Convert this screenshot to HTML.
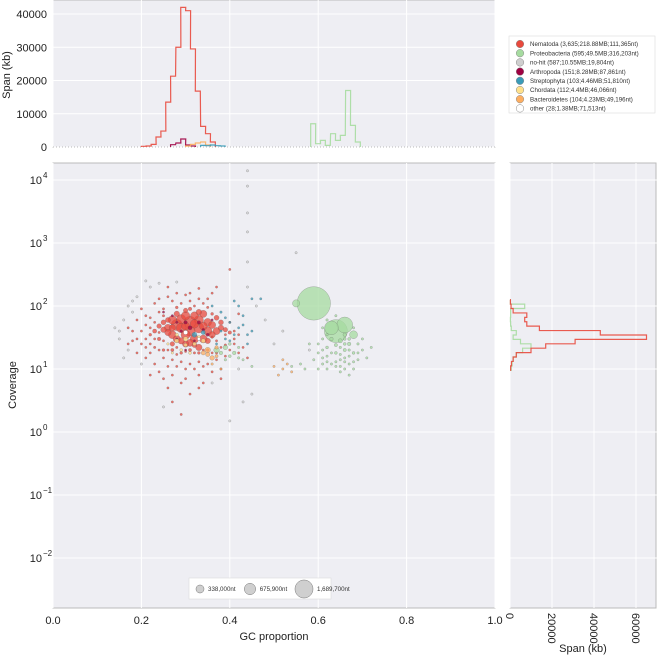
<!DOCTYPE html>
<html><head><meta charset="utf-8"><style>
html,body{margin:0;padding:0;background:#fff;}
svg{display:block;font-family:"Liberation Sans","DejaVu Sans",sans-serif;}
</style></head><body>
<svg id="chart" width="657" height="657" viewBox="0 0 657 657" xmlns="http://www.w3.org/2000/svg"></svg>
<script>
const catNames=["Nematoda (3,635;218.88MB;111,365nt)","Proteobacteria (595;49.5MB;316,203nt)","no-hit (587;10.55MB;19,804nt)","Arthropoda (151;8.28MB;87,861nt)","Streptophyta (103;4.46MB;51,810nt)","Chordata (112;4.4MB;46,066nt)","Bacteroidetes (104;4.23MB;49,196nt)","other (28;1.38MB;71,513nt)"];
const catColors=["#e8493d","#a6dba0","#cfcfcf","#9e0142","#3a9bb8","#fee08b","#fdae61","#ffffff"];
const xTicks=[0,0.2,0.4,0.6,0.8,1.0];
const xTickLabels=["0.0","0.2","0.4","0.6","0.8","1.0"];
const yTicks=[-2,-1,0,1,2,3,4];
const topTicks=[0,10000,20000,30000,40000];
const rightTicks=[0,20000,40000,60000];
const sizeLegendKb=[338,675.9,1689.7];
const sizeLegendLabels=["338,000nt","675,900nt","1,689,700nt"];
// points: [gc, coverage, span kb, category]
const points=[
[0.28,50,600,0],[0.31,55,700,0],[0.33,45,500,0],[0.30,35,400,0],[0.35,40,350,0],[0.27,35,300,0],[0.32,70,300,0],[0.29,62,400,0],[0.36,50,250,0],[0.34,30,300,0],[0.26,45,250,0],[0.38,45,150,0],[0.30,25,200,0],[0.33,22,200,0],[0.25,55,120,0],[0.37,65,120,0],[0.31,90,60,0],[0.28,95,40,0],[0.35,95,30,0],[0.40,380,15,0],[0.26,140,20,0],[0.23,110,15,0],[0.21,50,15,0],[0.20,40,12,0],[0.19,30,10,0],[0.22,25,12,0],[0.24,20,15,0],[0.25,15,12,0],[0.27,14,15,0],[0.29,13,12,0],[0.31,12,15,0],[0.33,13,12,0],[0.35,12,10,0],[0.37,14,10,0],[0.39,16,8,0],[0.41,25,10,0],[0.42,35,10,0],[0.40,55,12,0],[0.22,65,10,0],[0.24,80,10,0],[0.27,120,10,0],[0.30,150,8,0],[0.33,130,8,0],[0.36,160,8,0],[0.24,9,6,0],[0.27,8,6,0],[0.30,7,6,0],[0.33,8,6,0],[0.36,9,6,0],[0.26,5,5,0],[0.31,4,5,0],[0.29,1.9,5,0],[0.34,6,5,0],[0.23,30,20,0],[0.25,28,25,0],[0.28,22,30,0],[0.32,18,30,0],[0.34,20,25,0],[0.37,28,25,0],[0.39,35,20,0],[0.21,22,8,0],[0.18,28,6,0],[0.17,45,6,0],[0.19,60,6,0],[0.43,22,6,0],[0.44,15,6,0],[0.38,10,8,0],[0.26,11,8,0],[0.28,17,20,0],[0.30,19,25,0],[0.26,20,15,0],[0.24,38,20,0],[0.36,32,30,0],[0.38,22,15,0],[0.22,45,10,0],[0.32,100,15,0],[0.29,110,10,0],[0.34,110,12,0],[0.25,70,30,0],[0.36,75,40,0],
[0.27,60,350,0],[0.29,45,450,0],[0.31,40,500,0],[0.33,60,400,0],[0.35,55,300,0],[0.37,40,250,0],[0.28,30,250,0],[0.32,30,350,0],[0.26,38,200,0],[0.30,70,350,0],[0.34,75,250,0],[0.36,35,200,0],[0.29,28,200,0],[0.31,26,250,0],[0.27,45,200,0],[0.25,42,150,0],[0.24,48,100,0],[0.23,40,80,0],[0.38,55,120,0],[0.39,42,100,0],[0.40,38,60,0],[0.33,80,150,0],[0.28,75,150,0],[0.30,85,100,0],[0.26,60,120,0],[0.35,28,150,0],[0.32,24,120,0],[0.27,25,100,0],[0.24,30,60,0],[0.22,35,40,0],[0.23,22,30,0],[0.21,30,25,0],[0.20,25,20,0],[0.22,18,20,0],[0.25,20,40,0],[0.27,20,50,0],[0.29,18,40,0],[0.31,20,50,0],[0.33,18,40,0],[0.35,20,40,0],[0.37,18,30,0],[0.39,24,30,0],[0.41,30,20,0],[0.41,40,15,0],[0.23,55,25,0],[0.21,70,10,0],[0.25,90,20,0],[0.31,120,20,0],[0.35,130,15,0],[0.28,160,10,0],[0.24,130,10,0],[0.20,90,8,0],[0.18,40,8,0],[0.17,25,6,0],[0.19,18,8,0],[0.21,15,10,0],[0.23,12,10,0],[0.28,11,10,0],[0.32,10,10,0],[0.34,11,8,0],[0.30,10,8,0],[0.36,18,15,0],[0.40,20,12,0],[0.42,18,8,0],[0.25,7,5,0],[0.29,6,5,0],[0.33,5,5,0],[0.27,3,4,0],[0.38,7,5,0],[0.22,8,5,0],[0.31,160,10,0],[0.33,190,8,0],[0.26,200,6,0],[0.37,200,6,0],[0.42,75,8,0],[0.30,48,300,0],[0.34,48,300,0],[0.32,52,350,0],
[0.59,110,5300,1],[0.64,40,2500,1],[0.66,50,1200,1],[0.63,45,900,1],[0.55,110,250,1],[0.68,35,300,1],[0.37,20,150,1],[0.39,22,100,1],[0.41,18,60,1],[0.40,25,40,1],[0.42,15,30,1],[0.63,30,60,1],[0.65,28,80,1],[0.67,25,60,1],[0.66,20,50,1],[0.64,18,40,1],[0.62,22,40,1],[0.68,18,40,1],[0.69,25,30,1],[0.70,30,20,1],[0.61,15,20,1],[0.63,12,20,1],[0.65,14,25,1],[0.67,12,20,1],[0.69,14,15,1],[0.60,25,15,1],[0.62,35,30,1],[0.66,35,60,1],[0.64,24,50,1],[0.61,12,15,1],[0.60,10,10,1],[0.62,10,10,1],[0.66,10,10,1],[0.68,10,10,1],[0.70,20,10,1],[0.72,22,8,1],[0.58,25,10,1],[0.56,12,8,1],[0.54,11,6,1],[0.57,10,8,1],[0.59,14,8,1],[0.65,9,8,1],[0.67,8,6,1],[0.64,70,15,1],[0.61,30,20,1],[0.45,11,6,1],
[0.62,16,20,1],[0.63,18,20,1],[0.64,13,20,1],[0.65,17,25,1],[0.66,15,25,1],[0.67,16,20,1],[0.68,13,20,1],[0.66,13,20,1],[0.65,11,20,1],[0.64,11,20,1],[0.66,30,40,1],[0.67,30,40,1],[0.65,22,30,1],[0.66,25,40,1],[0.67,20,30,1],[0.69,18,20,1],[0.60,18,15,1],[0.61,20,15,1],[0.62,13,15,1],[0.71,15,10,1],[0.62,60,30,1],[0.61,45,20,1],[0.68,45,20,1],[0.38,18,60,1],[0.40,16,40,1],[0.42,22,30,1],[0.43,14,20,1],[0.39,14,30,1],
[0.15,30,5,2],[0.16,15,5,2],[0.18,80,5,2],[0.22,200,5,2],[0.28,240,5,2],[0.44,3000,3,2],[0.44,8000,3,2],[0.44,14000,3,2],[0.44,1500,3,2],[0.44,500,3,2],[0.44,200,3,2],[0.46,100,4,2],[0.48,60,4,2],[0.20,12,5,2],[0.42,10,5,2],[0.45,4,4,2],[0.43,3,4,2],[0.25,2.5,4,2],[0.17,100,4,2],[0.19,140,5,2],[0.50,25,4,2],[0.58,20,4,2],[0.52,40,4,2],[0.36,6,4,2],[0.14,45,4,2],[0.40,1.5,4,2],[0.55,700,3,2],[0.16,60,8,2],[0.17,20,8,2],[0.15,40,6,2],[0.18,120,6,2],[0.21,250,5,2],[0.24,230,5,2],
[0.31,45,80,3],[0.33,55,60,3],[0.29,40,40,3],[0.35,35,50,3],[0.27,70,30,3],[0.30,20,20,3],[0.36,60,20,3],[0.32,28,15,3],[0.28,30,15,3],[0.25,80,10,3],[0.30,55,60,3],[0.34,42,40,3],[0.28,55,30,3],
[0.32,35,120,4],[0.34,38,80,4],[0.38,80,30,4],[0.40,55,20,4],[0.42,45,15,4],[0.39,30,15,4],[0.43,70,10,4],[0.36,100,15,4],[0.41,120,10,4],[0.37,25,10,4],[0.44,35,8,4],[0.45,130,10,4],[0.47,130,8,4],[0.38,40,12,4],[0.41,35,12,4],[0.43,50,10,4],[0.40,28,10,4],[0.45,40,8,4],[0.44,25,8,4],[0.39,65,10,4],[0.42,100,8,4],
[0.30,30,100,5],[0.28,28,80,5],[0.32,25,60,5],[0.34,28,80,5],[0.29,20,40,5],[0.31,18,40,5],[0.26,25,30,5],[0.33,32,50,5],[0.27,18,20,5],[0.30,24,60,5],[0.28,35,50,5],
[0.35,20,150,6],[0.36,15,100,6],[0.34,18,80,6],[0.37,22,60,6],[0.36,12,30,6],[0.52,10,10,6],[0.53,12,10,6],[0.51,8,8,6],[0.54,9,8,6],[0.52,14,6,6],[0.50,11,6,6],[0.38,10,10,6],[0.35,17,80,6],[0.37,16,50,6],
[0.30,38,80,7],[0.33,30,40,7]
];
// top histogram: bin start gc, span kb
const topRedBins=[0.20,0.211,0.222,0.233,0.244,0.255,0.266,0.278,0.289,0.300,0.311,0.322,0.334,0.345,0.356];
const topRedVals=[200,300,800,3000,4800,13500,21300,30000,42000,41000,29500,16800,6200,4000,1500];
const topGreenBins=[0.583,0.594,0.605,0.616,0.628,0.639,0.650,0.662,0.673,0.684];
const topGreenVals=[7000,1000,2000,500,4000,2000,3500,17000,6500,1500];
const topArthBins=[0.266,0.278,0.289,0.300,0.311];
const topArthVals=[700,1200,2400,600,300];
const topOrangeBins=[0.300,0.311,0.322,0.334,0.345];
const topOrangeVals=[300,800,1200,1500,600];
const topTealBins=[0.334,0.345,0.356,0.367,0.378];
const topTealVals=[500,400,600,400,300];
// right histogram: log10 coverage bin lower edges, span kb
const rightEdges=[0.98,1.05,1.12,1.19,1.26,1.33,1.40,1.47,1.54,1.61,1.68,1.75,1.82,1.89,1.96,2.03];
const rightRed=[300,700,1500,3000,10000,17000,31000,65000,43000,14000,8000,7000,8000,1500,500,200];
const rightGreen=[600,1000,1500,3000,6000,10000,5000,1500,3000,600,300,200,300,300,7000,200];

const svg=document.getElementById('chart');
const NS="http://www.w3.org/2000/svg";
function mk(tag,attrs,parent){const e=document.createElementNS(NS,tag);for(const k in attrs)e.setAttribute(k,attrs[k]);(parent||svg).appendChild(e);return e;}
const M={x0:53,x1:495,y0:163,y1:608};
const T={y0:0,y1:147};
const R={x0:510,x1:657};
const X=g=>M.x0+(M.x1-M.x0)*g;
const Y=c=>369-63*(Math.log10(c)-1);
const YL=l=>369-63*(l-1);
const TY=v=>T.y1-v*(133/40000);
const RX=v=>R.x0+v*(2.1/1000);
const rad=kb=>0.23*Math.sqrt(kb);
const BW=0.0113;

let e;
e=mk('rect',{x:M.x0,y:T.y0,width:M.x1-M.x0,height:T.y1-T.y0,fill:'#eeeef3',stroke:'#bbb'});

e=mk('rect',{x:M.x0,y:M.y0,width:M.x1-M.x0,height:M.y1-M.y0,fill:'#eeeef3',stroke:'#bbb'});

e=mk('rect',{x:R.x0,y:M.y0,width:R.x1-R.x0-1,height:M.y1-M.y0,fill:'#eeeef3',stroke:'#bbb'});


xTicks.forEach(t=>{mk('line',{x1:X(t),x2:X(t),y1:M.y0,y2:M.y1,stroke:'#fff','stroke-width':1});mk('line',{x1:X(t),x2:X(t),y1:T.y0,y2:T.y1,stroke:'#fff','stroke-width':1});});
yTicks.forEach(t=>{mk('line',{x1:M.x0,x2:M.x1,y1:YL(t),y2:YL(t),stroke:'#fff'});mk('line',{x1:R.x0,x2:R.x1,y1:YL(t),y2:YL(t),stroke:'#fff'});});
topTicks.forEach(t=>mk('line',{x1:M.x0,x2:M.x1,y1:TY(t),y2:TY(t),stroke:'#fff'}));
rightTicks.forEach(t=>mk('line',{x1:RX(t),x2:RX(t),y1:M.y0,y2:M.y1,stroke:'#fff'}));
mk('line',{x1:M.x0,x2:M.x1,y1:T.y1,y2:T.y1,stroke:'#bbb','stroke-dasharray':'1,2'});

const gS=mk('g',{});

for(let c=0;c<catNames.length;c++){
  points.filter(p=>p[3]===c).sort((a,b)=>b[2]-a[2]).forEach(p=>{
    const ci=mk('circle',{cx:X(p[0]),cy:Y(p[1]),r:Math.max(1.2,rad(p[2])),fill:catColors[c],'fill-opacity':c===7?1:0.75,stroke:'#555','stroke-opacity':0.5,'stroke-width':0.4},gS);
    
    
  });
}

function topStep(bins,vals,color,name){
  let d='';let prevEnd=null;
  bins.forEach((b,i)=>{const x0=X(b),x1=X(b+BW),y=TY(vals[i]);
    if(prevEnd!==null && Math.abs(prevEnd-x0)<0.6){d+=`L${x0},${y}`;}
    else{ if(prevEnd!==null)d+=`L${prevEnd},${T.y1}`; d+=`M${x0},${T.y1}L${x0},${y}`;}
    d+=`L${x1},${y}`;prevEnd=x1;});
  d+=`L${prevEnd},${T.y1}`;
  const p=mk('path',{d:d,fill:'none',stroke:color,'stroke-width':1.2,'stroke-opacity':0.9});
  
}
topStep(topRedBins,topRedVals,'#e8493d','top-hist-nematoda');
topStep(topGreenBins,topGreenVals,'#a6dba0','top-hist-proteobacteria');
topStep(topArthBins,topArthVals,'#9e0142','top-hist-arthropoda');
topStep(topOrangeBins,topOrangeVals,'#fdae61','top-hist-bacteroidetes');
topStep(topTealBins,topTealVals,'#3a9bb8','top-hist-streptophyta');
function rightStep(vals,color,name){
  let d='';
  rightEdges.forEach((l,i)=>{const y0=YL(l),y1=YL(l+0.07),x=RX(vals[i]);
    if(i===0)d+=`M${R.x0},${y0}`;
    d+=`L${x},${y0}L${x},${y1}`;});
  d+=`L${R.x0},${YL(rightEdges[rightEdges.length-1]+0.07)}`;
  const p=mk('path',{d:d,fill:'none',stroke:color,'stroke-width':1.2,'stroke-opacity':0.9});
  
}
rightStep(rightGreen,'#a6dba0','right-hist-proteobacteria');
rightStep(rightRed,'#e8493d','right-hist-nematoda');

const fs=11;
xTicks.forEach((t,i)=>{const tx=mk('text',{x:X(t),y:624,'text-anchor':'middle','font-size':fs,fill:'#222'});tx.textContent=xTickLabels[i];
});
yTicks.forEach(t=>{const tx=mk('text',{x:42,y:YL(t)+4,'text-anchor':'end','font-size':fs,fill:'#222'});tx.textContent='10';
 const s=mk('text',{x:43,y:YL(t)-2,'font-size':8,fill:'#222'});s.textContent=String(t).replace('-','\u2212');
 
 });
topTicks.forEach(t=>{const tx=mk('text',{x:47,y:TY(t)+4,'text-anchor':'end','font-size':fs,fill:'#222'});tx.textContent=String(t);
 });
rightTicks.forEach(t=>{const tx=mk('text',{x:RX(t)-4,y:613,'font-size':fs,fill:'#222',transform:`rotate(90 ${RX(t)-4} 613)`});tx.textContent=String(t);
 });

e=mk('text',{x:274,y:640,'text-anchor':'middle','font-size':11,fill:'#222'});e.textContent='GC proportion';

e=mk('text',{x:16,y:385,'text-anchor':'middle','font-size':11,fill:'#222',transform:'rotate(-90 16 385)'});e.textContent='Coverage';

e=mk('text',{x:10,y:75,'text-anchor':'middle','font-size':11,fill:'#222',transform:'rotate(-90 10 75)'});e.textContent='Span (kb)';

e=mk('text',{x:583,y:652,'text-anchor':'middle','font-size':11,fill:'#222'});e.textContent='Span (kb)';


const lg=mk('g',{});

mk('rect',{x:509,y:36,width:146,height:77,fill:'#fff',stroke:'#ddd','stroke-width':0.6},lg);
catNames.forEach((n,i)=>{const y=44+i*9.2;
 const g=mk('g',{},lg);
 mk('circle',{cx:520,cy:y,r:3.8,fill:catColors[i],stroke:'#888','stroke-width':0.5},g);
 const t=mk('text',{x:530,y:y+2.2,'font-size':6.2,fill:'#333'},g);t.textContent=n;});

const sg=mk('g',{});

mk('rect',{x:189,y:578,width:142,height:21,fill:'#fff',stroke:'#ddd','stroke-width':0.6},sg);
const sx=[200,250,304];
sizeLegendKb.forEach((kb,i)=>{const g=mk('g',{},sg);
 const r=0.219*Math.sqrt(kb);
 mk('circle',{cx:sx[i],cy:589,r:r,fill:'#cfcfcf',stroke:'#777','stroke-width':0.5},g);
 const t=mk('text',{x:sx[i]+r+4,y:591,'font-size':6.2,fill:'#333'},g);t.textContent=sizeLegendLabels[i];});
</script>
</body></html>
